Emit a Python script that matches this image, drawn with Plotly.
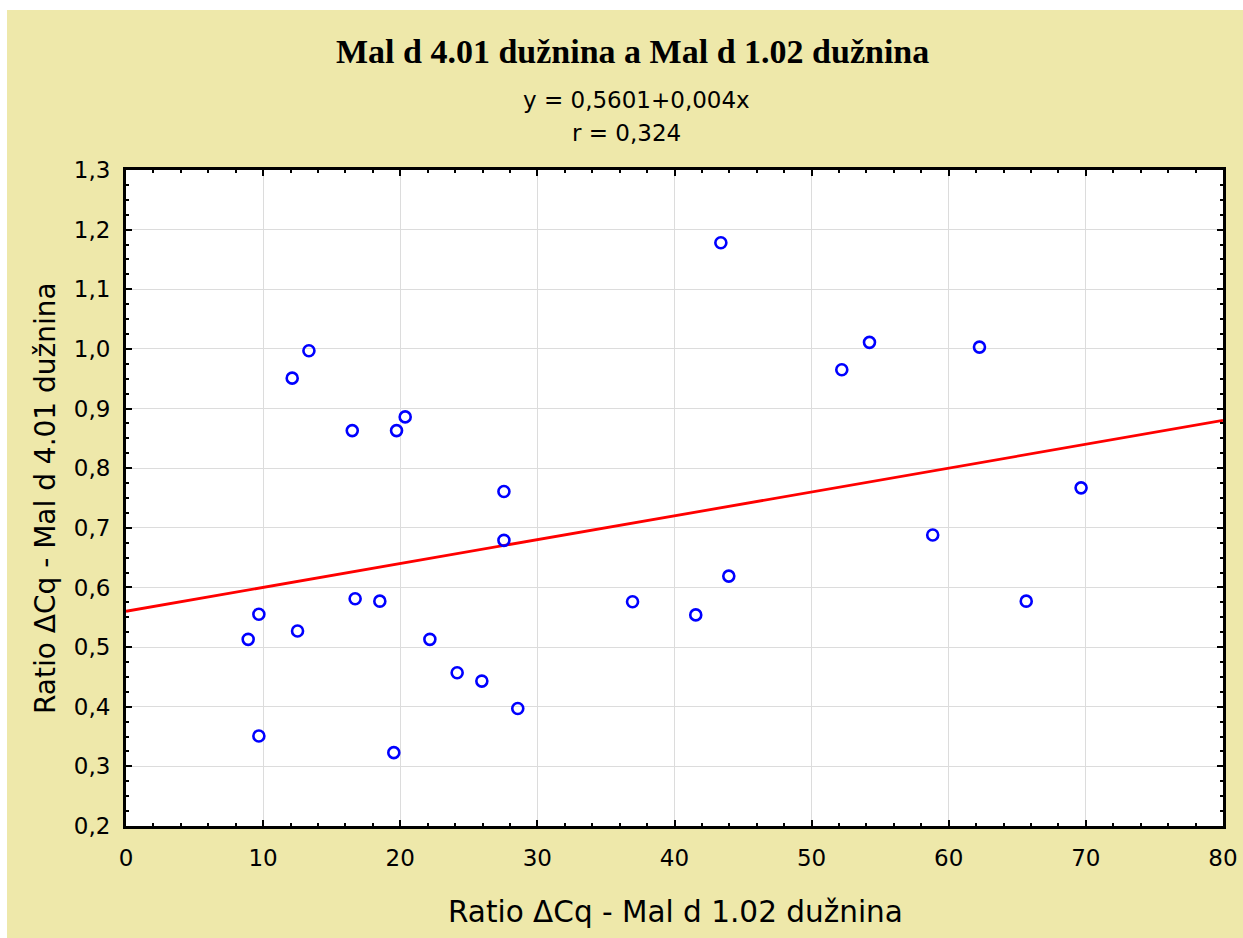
import plotly.graph_objects as go

# Observations: ratio ΔCq for Mal d 1.02 (x) and Mal d 4.01 (y)
x_vals = [8.91, 9.69, 9.69, 12.12, 12.51, 13.34, 16.50, 16.71, 18.51, 19.53,
          19.73, 20.36, 22.16, 24.15, 25.95, 27.56, 27.56, 28.57, 36.94, 41.55,
          43.38, 43.96, 52.20, 54.22, 58.83, 62.24, 65.65, 69.65]
y_vals = [0.513, 0.555, 0.351, 0.951, 0.527, 0.997, 0.863, 0.581, 0.577, 0.323,
          0.863, 0.886, 0.513, 0.457, 0.443, 0.761, 0.679, 0.397, 0.576, 0.554,
          1.178, 0.619, 0.965, 1.011, 0.688, 1.003, 0.577, 0.767]

# Fitted regression line y = a + b*x
intercept = 0.5601
slope = 0.004
r_value = 0.324

x_range = [0, 80]
y_range = [0.2, 1.3]

title_text = "Mal d 4.01 dužnina a Mal d 1.02 dužnina"
eq_text = "y = 0,5601+0,004x"
r_text = "r = 0,324"
x_title = "Ratio ΔCq - Mal d 1.02 dužnina"
y_title = "Ratio ΔCq - Mal d 4.01 dužnina"

W, H = 1243, 938
L, R, T, B = 126, 20, 170, 112
pw, ph = W - L - R, H - T - B


def px_x(p):
    return (p - L) / pw


def px_y(p):
    return (H - B - p) / ph


line_x = list(x_range)
line_y = [intercept + slope * v for v in line_x]

fig = go.Figure()
fig.add_trace(go.Scatter(
    x=line_x, y=line_y, mode="lines",
    line=dict(color="#FF0000", width=2.8),
    hoverinfo="skip", showlegend=False,
))
fig.add_trace(go.Scatter(
    x=x_vals, y=y_vals, mode="markers",
    marker=dict(symbol="circle-open", size=11, color="#0000FF",
                line=dict(color="#0000FF", width=2.6)),
    showlegend=False,
))

tick_font = dict(family="DejaVu Sans", size=23, color="black")

common = dict(
    showgrid=True, gridcolor="#DCDCDC", gridwidth=1,
    zeroline=False, automargin=False,
    showline=True, linecolor="black", linewidth=3, mirror="allticks",
    ticks="inside", ticklen=6, tickwidth=2, tickcolor="black",
    tickfont=tick_font,
)
fig.update_xaxes(
    range=x_range, dtick=10, tick0=0, ticklabelstandoff=9,
    minor=dict(dtick=2, ticks="inside", ticklen=3, tickwidth=2,
               tickcolor="black", showgrid=False),
    **common,
)
fig.update_yaxes(
    range=y_range, dtick=0.1, tick0=0.2, tickformat=".1f", ticklabelstandoff=8,
    minor=dict(dtick=0.025, ticks="inside", ticklen=3, tickwidth=2,
               tickcolor="black", showgrid=False),
    **common,
)

annotations = [
    dict(text="<b>" + title_text + "</b>", x=px_x(632), y=px_y(52),
         font=dict(family="Liberation Serif", size=34, color="black")),
    dict(text=eq_text, x=px_x(636), y=px_y(100),
         font=dict(family="DejaVu Sans", size=23, color="black")),
    dict(text=r_text, x=px_x(626), y=px_y(133),
         font=dict(family="DejaVu Sans", size=23, color="black")),
    dict(text=x_title, x=px_x(675), y=px_y(912),
         font=dict(family="DejaVu Sans", size=29.5, color="black")),
    dict(text=y_title, x=px_x(45), y=px_y(498), textangle=-90,
         font=dict(family="DejaVu Sans", size=28, color="black")),
]
for a in annotations:
    a.update(xref="paper", yref="paper", showarrow=False,
             xanchor="center", yanchor="middle")

shapes = [
    # tan page panel
    dict(type="rect", xref="paper", yref="paper",
         x0=px_x(7), x1=px_x(W + 5), y0=px_y(10), y1=px_y(H + 5),
         fillcolor="#EEE8AA", line=dict(width=0), layer="below"),
    # white plotting area
    dict(type="rect", xref="paper", yref="paper",
         x0=0, x1=1, y0=0, y1=1,
         fillcolor="white", line=dict(width=0), layer="below"),
]

fig.update_layout(
    width=W, height=H,
    margin=dict(l=L, r=R, t=T, b=B),
    paper_bgcolor="white", plot_bgcolor="white",
    separators=", ",
    annotations=annotations,
    shapes=shapes,
    showlegend=False,
)

fig.write_html("out.html")
